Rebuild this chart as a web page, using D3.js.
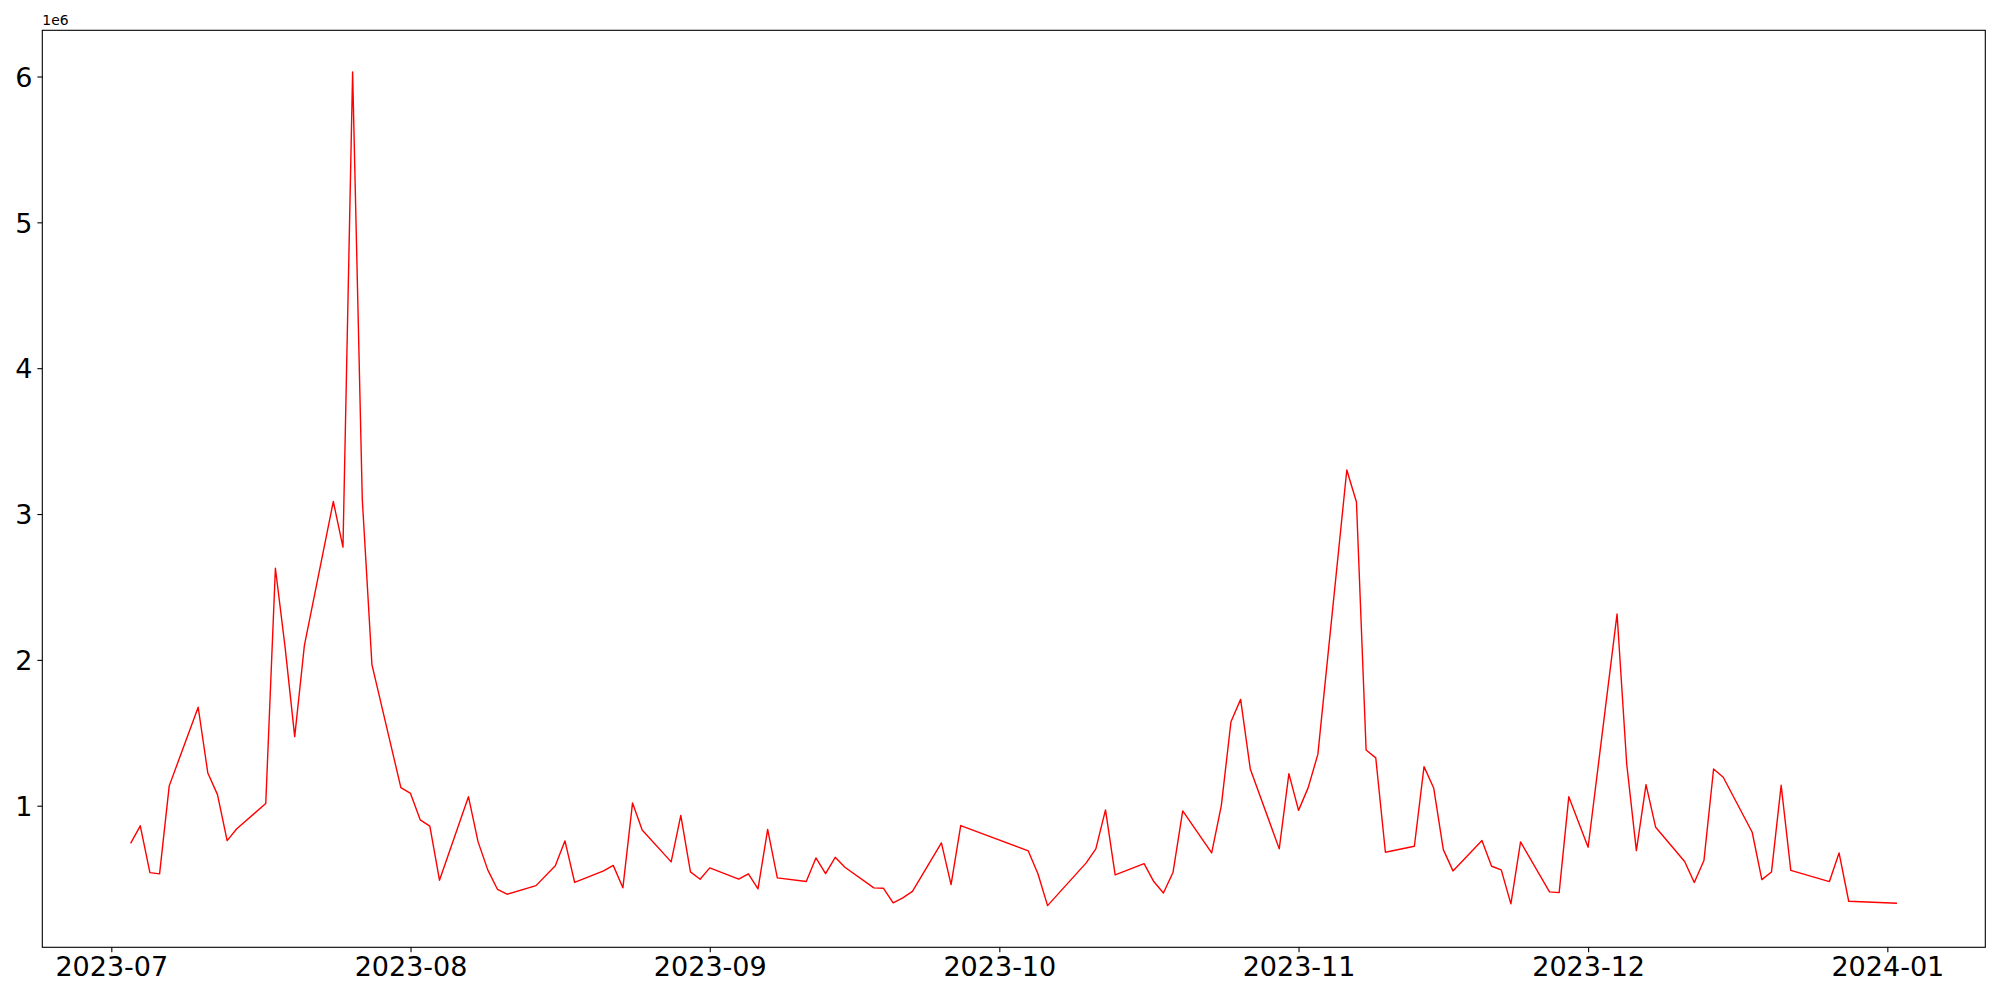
<!DOCTYPE html>
<html>
<head>
<meta charset="utf-8">
<script src="https://cdn.jsdelivr.net/npm/d3@7.9.0/dist/d3.min.js"></script>
<style>
  body { margin: 0; background: #fff; }
  svg { display: block; font-family: "DejaVu Sans", sans-serif; }
</style>
</head>
<body>
<div id="vis"></div>
<script>
// trading days
const dates = [
  "2023-07-03", "2023-07-04", "2023-07-05", "2023-07-06", "2023-07-07",
  "2023-07-10", "2023-07-11", "2023-07-12", "2023-07-13", "2023-07-14",
  "2023-07-17", "2023-07-18", "2023-07-19", "2023-07-20", "2023-07-21",
  "2023-07-24", "2023-07-25", "2023-07-26", "2023-07-27", "2023-07-28",
  "2023-07-31", "2023-08-01", "2023-08-02", "2023-08-03", "2023-08-04",
  "2023-08-07", "2023-08-08", "2023-08-09", "2023-08-10", "2023-08-11",
  "2023-08-14", "2023-08-16", "2023-08-17", "2023-08-18",
  "2023-08-21", "2023-08-22", "2023-08-23", "2023-08-24", "2023-08-25",
  "2023-08-28", "2023-08-29", "2023-08-30", "2023-08-31", "2023-09-01",
  "2023-09-04", "2023-09-05", "2023-09-06", "2023-09-07", "2023-09-08",
  "2023-09-11", "2023-09-12", "2023-09-13", "2023-09-14", "2023-09-15",
  "2023-09-18", "2023-09-19", "2023-09-20", "2023-09-21", "2023-09-22",
  "2023-09-25", "2023-09-26", "2023-09-27",
  "2023-10-04", "2023-10-05", "2023-10-06",
  "2023-10-10", "2023-10-11", "2023-10-12", "2023-10-13",
  "2023-10-16", "2023-10-17", "2023-10-18", "2023-10-19", "2023-10-20",
  "2023-10-23", "2023-10-24", "2023-10-25", "2023-10-26", "2023-10-27",
  "2023-10-30", "2023-10-31", "2023-11-01", "2023-11-02", "2023-11-03",
  "2023-11-06", "2023-11-07", "2023-11-08", "2023-11-09", "2023-11-10",
  "2023-11-13", "2023-11-14", "2023-11-15", "2023-11-16", "2023-11-17",
  "2023-11-20", "2023-11-21", "2023-11-22", "2023-11-23", "2023-11-24",
  "2023-11-27", "2023-11-28", "2023-11-29", "2023-12-01",
  "2023-12-04", "2023-12-05", "2023-12-06", "2023-12-07", "2023-12-08",
  "2023-12-11", "2023-12-12", "2023-12-13", "2023-12-14", "2023-12-15",
  "2023-12-18", "2023-12-19", "2023-12-20", "2023-12-21", "2023-12-22",
  "2023-12-26", "2023-12-27", "2023-12-28",
  "2024-01-02"
];

const values = [
  742000, 862000, 541000, 533000, 1136000,
  1675000, 1224000, 1076000, 761000, 842000,
  1015000, 2628000, 2089000, 1474000, 2097000,
  3086000, 2773000, 6031000, 3103000, 1968000,
  1124000, 1084000, 903000, 860000, 489000,
  1062000, 752000, 560000, 427000, 393000,
  452000, 589000, 759000, 475000,
  553000, 591000, 437000, 1019000, 834000,
  615000, 934000, 546000, 496000, 574000,
  496000, 533000, 430000, 838000, 505000,
  480000, 642000, 535000, 646000, 578000,
  437000, 434000, 334000, 368000, 413000,
  745000, 459000, 864000,
  690000, 533000, 315000,
  608000, 704000, 971000, 526000,
  603000, 480000, 402000, 544000, 964000,
  676000, 1001000, 1576000, 1729000, 1252000,
  704000, 1220000, 968000, 1124000, 1352000,
  3302000, 3082000, 1382000, 1328000, 681000,
  722000, 1268000, 1122000, 699000, 553000,
  761000, 585000, 560000, 327000, 752000,
  409000, 404000, 1062000, 715000,
  2315000, 1286000, 692000, 1145000, 852000,
  617000, 473000, 624000, 1252000, 1195000,
  818000, 493000, 546000, 1140000, 557000,
  480000, 676000, 345000,
  331000
];

const xTicks = ["2023-07-01", "2023-08-01", "2023-09-01", "2023-10-01", "2023-11-01", "2023-12-01", "2024-01-01"];
const yTicks = [1e6, 2e6, 3e6, 4e6, 5e6, 6e6];

const width = 2000;
const height = 1000;
const margin = { top: 30.3, right: 14.7, bottom: 52.7, left: 42.3 };

const parse = d3.timeParse("%Y-%m-%d");
const data = dates.map((d, i) => ({ date: parse(d), value: values[i] }));

// matplotlib style 5% padding on both axes
const tExt = d3.extent(data, (d) => +d.date);
const tPad = (tExt[1] - tExt[0]) * 0.05;
const vExt = d3.extent(data, (d) => d.value);
const vPad = (vExt[1] - vExt[0]) * 0.05;

const x = d3
  .scaleTime()
  .domain([new Date(tExt[0] - tPad), new Date(tExt[1] + tPad)])
  .range([margin.left, width - margin.right]);
const y = d3
  .scaleLinear()
  .domain([vExt[0] - vPad, vExt[1] + vPad])
  .range([height - margin.bottom, margin.top]);

const svg = d3
  .select("#vis")
  .append("svg")
  .attr("width", width)
  .attr("height", height);

// the line
const line = d3
  .line()
  .x((d) => x(d.date))
  .y((d) => y(d.value));

svg
  .append("path")
  .datum(data)
  .attr("fill", "none")
  .attr("stroke", "#ff0000")
  .attr("stroke-width", 1.4)
  .attr("stroke-linejoin", "round")
  .attr("d", line);

// axes
const xAxis = svg
  .append("g")
  .attr("transform", `translate(0,${height - margin.bottom})`)
  .call(
    d3
      .axisBottom(x)
      .tickValues(xTicks.map(parse))
      .tickFormat(d3.timeFormat("%Y-%m"))
      .tickSize(4.9)
      .tickPadding(4.9)
  );

const yAxis = svg
  .append("g")
  .attr("transform", `translate(${margin.left},0)`)
  .call(
    d3
      .axisLeft(y)
      .tickValues(yTicks)
      .tickFormat((d) => d / 1e6)
      .tickSize(4.9)
      .tickPadding(4.9)
  );

[xAxis, yAxis].forEach((g) => {
  g.select(".domain").remove();
  g.selectAll(".tick line").attr("stroke", "#000").attr("stroke-width", 1.1);
  g.selectAll(".tick text")
    .attr("fill", "#000")
    .style("font-size", "27px")
    .style("font-family", "'DejaVu Sans', sans-serif");
});
yAxis.selectAll(".tick text").attr("dy", "0.36em");

// frame
svg
  .append("rect")
  .attr("x", margin.left)
  .attr("y", margin.top)
  .attr("width", width - margin.left - margin.right)
  .attr("height", height - margin.top - margin.bottom)
  .attr("fill", "none")
  .attr("stroke", "#000")
  .attr("stroke-width", 1.1);

// offset text
svg
  .append("text")
  .attr("x", margin.left)
  .attr("y", margin.top - 5)
  .style("font-size", "13.9px")
  .text("1e6");
</script>
</body>
</html>
